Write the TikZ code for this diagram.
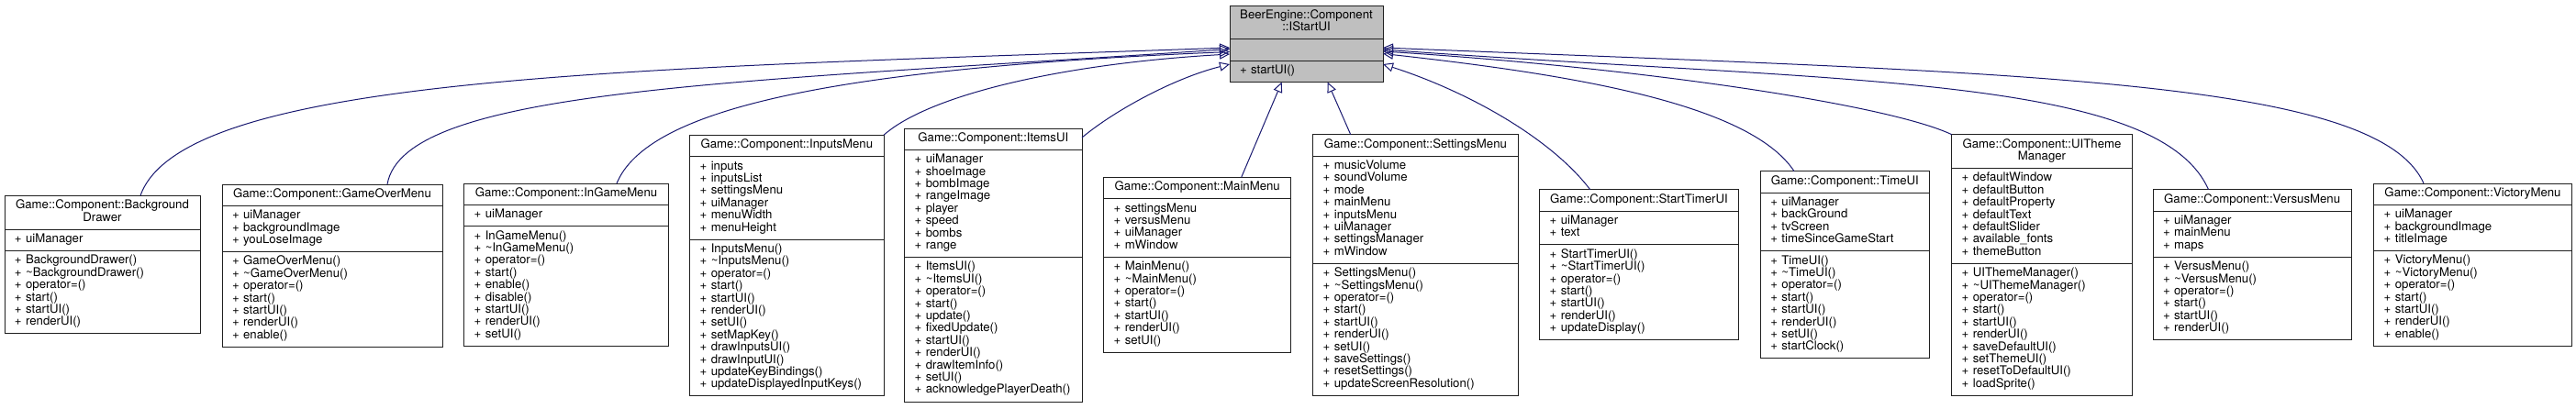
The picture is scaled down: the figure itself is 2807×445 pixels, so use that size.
\documentclass[tikz,border=0pt]{standalone}
\usepackage{fontspec}
\setmainfont{TeX Gyre Heros}
\usetikzlibrary{arrows.meta}
\definecolor{edgeblue}{HTML}{191970}
\definecolor{basegray}{HTML}{BFBFBF}
\definecolor{boxline}{HTML}{202020}
\newcommand{\LL}[1]{\mbox{\strut\smash{#1}}}
\newcommand{\tld}{\textasciitilde}
\tikzset{
  sect/.style={draw=boxline, line width=1pt, fill=white, inner xsep=11pt, inner ysep=5pt,
    anchor=north west, outer sep=0pt, font=\fontsize{13.2pt}{13.4pt}\selectfont},
  ttl/.style={sect, align=center},
  lst/.style={sect, align=left},
  inh/.style={draw=edgeblue, line width=1pt, -{Triangle[open,length=11pt,width=10pt]}},
}
\newcommand{\umlclass}[8]{%
  \node[ttl, text width=#4, #8] (#1-t) at (#2,#3) {#5};
  \node[lst, text width=#4, #8] (#1-a) at (#1-t.south west) {#6};
  \node[lst, text width=#4, #8] (#1-m) at (#1-a.south west) {#7};
}
\begin{document}
\begin{tikzpicture}[x=1pt,y=-1pt]
\useasboundingbox (0,0) rectangle (2807,445);
\fill[white] (0,0) rectangle (2807,445);

\umlclass{base}{1340}{6}{145pt}{\LL{BeerEngine::Component}\\\LL{::IStartUI}}{\LL{}}{\LL{+ startUI()}}{fill=basegray}

\umlclass{bd}{5}{213.3}{191pt}{\LL{Game::Component::Background}\\\LL{Drawer}}
 {\LL{+ uiManager}}
 {\LL{+ BackgroundDrawer()}\\\LL{+ \tld BackgroundDrawer()}\\\LL{+ operator=()}\\\LL{+ start()}\\\LL{+ startUI()}\\\LL{+ renderUI()}}{}

\umlclass{gom}{242}{201}{218pt}{\LL{Game::Component::GameOverMenu}}
 {\LL{+ uiManager}\\\LL{+ backgroundImage}\\\LL{+ youLoseImage}}
 {\LL{+ GameOverMenu()}\\\LL{+ \tld GameOverMenu()}\\\LL{+ operator=()}\\\LL{+ start()}\\\LL{+ startUI()}\\\LL{+ renderUI()}\\\LL{+ enable()}}{}

\umlclass{igm}{505.7}{200}{200.6pt}{\LL{Game::Component::InGameMenu}}
 {\LL{+ uiManager}}
 {\LL{+ InGameMenu()}\\\LL{+ \tld InGameMenu()}\\\LL{+ operator=()}\\\LL{+ start()}\\\LL{+ enable()}\\\LL{+ disable()}\\\LL{+ startUI()}\\\LL{+ renderUI()}\\\LL{+ setUI()}}{}

\umlclass{im}{751.7}{147.3}{189.3pt}{\LL{Game::Component::InputsMenu}}
 {\LL{+ inputs}\\\LL{+ inputsList}\\\LL{+ settingsMenu}\\\LL{+ uiManager}\\\LL{+ menuWidth}\\\LL{+ menuHeight}}
 {\LL{+ InputsMenu()}\\\LL{+ \tld InputsMenu()}\\\LL{+ operator=()}\\\LL{+ start()}\\\LL{+ startUI()}\\\LL{+ renderUI()}\\\LL{+ setUI()}\\\LL{+ setMapKey()}\\\LL{+ drawInputsUI()}\\\LL{+ drawInputUI()}\\\LL{+ updateKeyBindings()}\\\LL{+ updateDisplayedInputKeys()}}{}

\umlclass{iui}{985.7}{140}{171.3pt}{\LL{Game::Component::ItemsUI}}
 {\LL{+ uiManager}\\\LL{+ shoeImage}\\\LL{+ bombImage}\\\LL{+ rangeImage}\\\LL{+ player}\\\LL{+ speed}\\\LL{+ bombs}\\\LL{+ range}}
 {\LL{+ ItemsUI()}\\\LL{+ \tld ItemsUI()}\\\LL{+ operator=()}\\\LL{+ start()}\\\LL{+ update()}\\\LL{+ fixedUpdate()}\\\LL{+ startUI()}\\\LL{+ renderUI()}\\\LL{+ drawItemInfo()}\\\LL{+ setUI()}\\\LL{+ acknowledgePlayerDeath()}}{}

\umlclass{mm}{1202.7}{193.3}{182pt}{\LL{Game::Component::MainMenu}}
 {\LL{+ settingsMenu}\\\LL{+ versusMenu}\\\LL{+ uiManager}\\\LL{+ mWindow}}
 {\LL{+ MainMenu()}\\\LL{+ \tld MainMenu()}\\\LL{+ operator=()}\\\LL{+ start()}\\\LL{+ startUI()}\\\LL{+ renderUI()}\\\LL{+ setUI()}}{}

\umlclass{sm}{1430.7}{146.7}{201.3pt}{\LL{Game::Component::SettingsMenu}}
 {\LL{+ musicVolume}\\\LL{+ soundVolume}\\\LL{+ mode}\\\LL{+ mainMenu}\\\LL{+ inputsMenu}\\\LL{+ uiManager}\\\LL{+ settingsManager}\\\LL{+ mWindow}}
 {\LL{+ SettingsMenu()}\\\LL{+ \tld SettingsMenu()}\\\LL{+ operator=()}\\\LL{+ start()}\\\LL{+ startUI()}\\\LL{+ renderUI()}\\\LL{+ setUI()}\\\LL{+ saveSettings()}\\\LL{+ resetSettings()}\\\LL{+ updateScreenResolution()}}{}

\umlclass{stu}{1677.7}{206.7}{194.6pt}{\LL{Game::Component::StartTimerUI}}
 {\LL{+ uiManager}\\\LL{+ text}}
 {\LL{+ StartTimerUI()}\\\LL{+ \tld StartTimerUI()}\\\LL{+ operator=()}\\\LL{+ start()}\\\LL{+ startUI()}\\\LL{+ renderUI()}\\\LL{+ updateDisplay()}}{}

\umlclass{tui}{1918.3}{186.7}{162pt}{\LL{Game::Component::TimeUI}}
 {\LL{+ uiManager}\\\LL{+ backGround}\\\LL{+ tvScreen}\\\LL{+ timeSinceGameStart}}
 {\LL{+ TimeUI()}\\\LL{+ \tld TimeUI()}\\\LL{+ operator=()}\\\LL{+ start()}\\\LL{+ startUI()}\\\LL{+ renderUI()}\\\LL{+ setUI()}\\\LL{+ startClock()}}{}

\umlclass{utm}{2126.7}{146.7}{174.6pt}{\LL{Game::Component::UITheme}\\\LL{Manager}}
 {\LL{+ defaultWindow}\\\LL{+ defaultButton}\\\LL{+ defaultProperty}\\\LL{+ defaultText}\\\LL{+ defaultSlider}\\\LL{+ available\_fonts}\\\LL{+ themeButton}}
 {\LL{+ UIThemeManager()}\\\LL{+ \tld UIThemeManager()}\\\LL{+ operator=()}\\\LL{+ start()}\\\LL{+ startUI()}\\\LL{+ renderUI()}\\\LL{+ saveDefaultUI()}\\\LL{+ setThemeUI()}\\\LL{+ resetToDefaultUI()}\\\LL{+ loadSprite()}}{}

\umlclass{vm}{2346}{206.7}{194.3pt}{\LL{Game::Component::VersusMenu}}
 {\LL{+ uiManager}\\\LL{+ mainMenu}\\\LL{+ maps}}
 {\LL{+ VersusMenu()}\\\LL{+ \tld VersusMenu()}\\\LL{+ operator=()}\\\LL{+ start()}\\\LL{+ startUI()}\\\LL{+ renderUI()}}{}

\umlclass{vic}{2586.7}{200}{193.6pt}{\LL{Game::Component::VictoryMenu}}
 {\LL{+ uiManager}\\\LL{+ backgroundImage}\\\LL{+ titleImage}}
 {\LL{+ VictoryMenu()}\\\LL{+ \tld VictoryMenu()}\\\LL{+ operator=()}\\\LL{+ start()}\\\LL{+ startUI()}\\\LL{+ renderUI()}\\\LL{+ enable()}}{}

% inheritance edges
\draw[inh] ([xshift=148pt]bd-t.north west) .. controls +(47,-133) and +(-640,23) .. ([yshift=2.5pt]base-a.west);
\draw[inh] ([xshift=180pt]gom-t.north west) .. controls +(18,-105) and +(-540,36.5) .. ([yshift=1pt]base-a.west);
\draw[inh] ([xshift=166.3pt]igm-t.north west) .. controls +(33,-80) and +(-440,18.5) .. ([yshift=-2pt]base-a.west);
\draw[inh] (im-t.north east) .. controls +(47,-42) and +(-190,11) .. ([yshift=-4.5pt]base-a.west);
\draw[inh] ([yshift=-10pt]iui-t.north east) .. controls +(36,-30) and +(-60,15) .. ([yshift=-15.5pt]base-a.west);
\draw[inh] ([xshift=150pt]mm-t.north west) -- ([xshift=56.7pt]base-m.south west);
\draw[inh] ([xshift=41pt]sm-t.north west) -- ([xshift=106.7pt]base-m.south west);
\draw[inh] ([xshift=55pt]stu-t.north west) .. controls +(-42.7,-56) and +(93,30) .. ([yshift=-15.5pt]base-a.east);
\draw[inh] ([xshift=36.7pt]tui-t.north west) .. controls +(-50,-76) and +(193,21.5) .. ([yshift=-4pt]base-a.east);
\draw[inh] (utm-t.north west) .. controls +(-66.7,-31.7) and +(293,19) .. ([yshift=-1.5pt]base-a.east);
\draw[inh] ([xshift=60.5pt]vm-t.north west) .. controls +(-56,-126) and +(493,36) .. ([yshift=0.5pt]base-a.east);
\draw[inh] ([xshift=54.3pt]vic-t.north west) .. controls +(-51,-115) and +(693,28) .. ([yshift=2.5pt]base-a.east);
\end{tikzpicture}
\end{document}
